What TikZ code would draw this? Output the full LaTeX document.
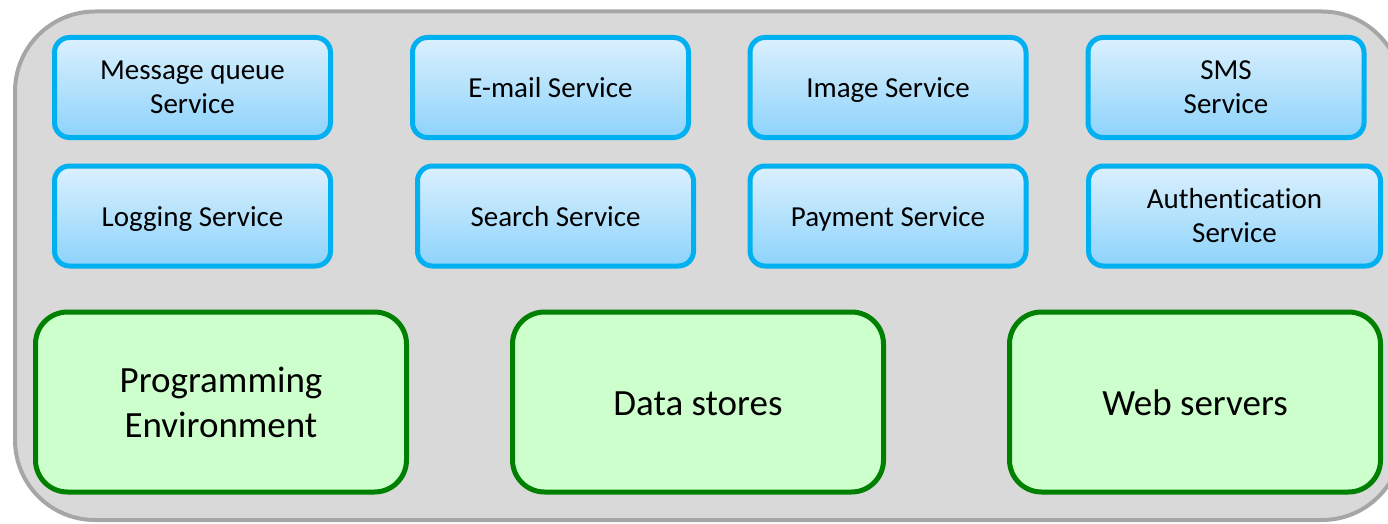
\documentclass[tikz,border=0pt]{standalone}
\usepackage{fontspec}
\setmainfont[Ligatures=NoCommon]{Carlito}
\definecolor{panelfill}{HTML}{D9D9D9}
\definecolor{paneledge}{HTML}{A6A6A6}
\definecolor{svcedge}{HTML}{00B0F0}
\definecolor{svctop}{HTML}{DBF0FD}
\definecolor{svcbottom}{HTML}{8DD3FB}
\definecolor{infraedge}{HTML}{008000}
\definecolor{infrafill}{HTML}{CCFFCC}
\tikzset{
  svc/.style={rectangle, rounded corners=15pt, draw=svcedge, line width=5pt,
    top color=svctop, bottom color=svcbottom, inner sep=0pt, outer sep=0pt,
    minimum width=276pt, minimum height=100pt, align=center,
    font=\fontsize{29}{34}\selectfont},
  svcline/.style={text height=27pt, text depth=6pt},
  infra/.style={rectangle, rounded corners=32pt, draw=infraedge, line width=5pt,
    fill=infrafill, inner sep=0pt, outer sep=0pt,
    minimum width=371pt, minimum height=180pt, align=center,
    font=\fontsize{37}{45}\selectfont},
  infraline/.style={text height=34pt, text depth=8pt},
}
\begin{document}
\begin{tikzpicture}[x=1pt,y=-1pt]
\useasboundingbox (0,0) rectangle (1388,524);
\clip (0,0) rectangle (1388,524);
% platform panel
\draw[fill=panelfill, draw=paneledge, line width=4pt, rounded corners=80pt]
  (15,11.5) rectangle (1402,520);
% service row 1
\node[svc] (mq)    at (192.5,87.5) {Message queue\\Service};
\node[svc, svcline] (mail)  at (550.5,87.5) {E-mail Service};
\node[svc, svcline] (img)   at (888,87.5)   {Image Service};
\node[svc] (sms)   at (1226,87.5)  {SMS\\Service};
% service row 2
\node[svc, svcline] (log)   at (192.5,216)  {Logging Service};
\node[svc, svcline] (search)at (555.5,216)  {Search Service};
\node[svc, svcline] (pay)   at (888,216)    {Payment Service};
\node[svc, minimum width=292pt] (auth) at (1234.5,216) {Authentication\\Service};
% infrastructure row
\node[infra] (prog) at (221,402)  {Programming\\Environment};
\node[infra, infraline] (data) at (698,402)  {Data stores};
\node[infra, infraline] (web)  at (1195,402) {Web servers};
\end{tikzpicture}
\end{document}
